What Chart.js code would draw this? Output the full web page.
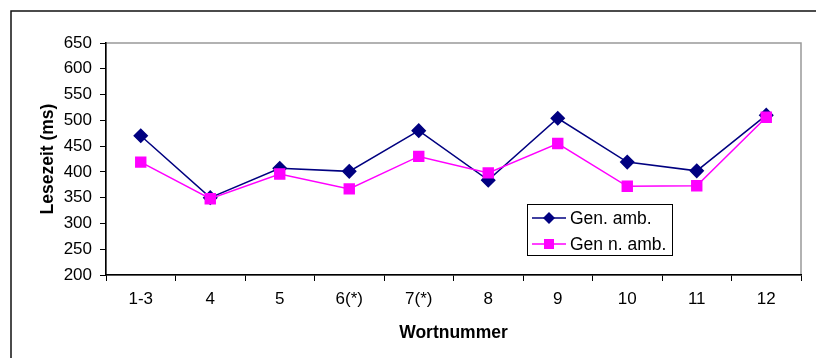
<!DOCTYPE html>
<html>
<head>
<meta charset="utf-8">
<script src="https://cdn.jsdelivr.net/npm/chart.js@4.4.0/dist/chart.umd.min.js"></script>
<style>
  html, body { margin: 0; padding: 0; background: #fff; }
  #wrap { position: relative; width: 816px; height: 358px; }
</style>
</head>
<body>
<div id="wrap"><canvas id="chart" width="816" height="358"></canvas></div>
<script>
// Word positions in the sentence
const wordLabels = ['1-3', '4', '5', '6(*)', '7(*)', '8', '9', '10', '11', '12'];
// Mean reading times (ms)
const genAmb = [470, 350, 407, 401, 480, 384, 504, 419, 402, 510];
const genNonAmb = [419, 348, 396, 367, 430, 398, 455, 372, 373, 506];
const seriesNames = ['Gen. amb.', 'Gen n. amb.'];
const yMin = 200, yMax = 650, yStep = 50;

const FONT = "'Liberation Sans', Arial, sans-serif";

// Page frame and grey plot frame
const framePlugin = {
  id: 'frame',
  beforeDraw(chart) {
    const ctx = chart.ctx, a = chart.chartArea;
    ctx.save();
    ctx.strokeStyle = '#111';
    ctx.lineWidth = 1.5;
    ctx.beginPath();
    ctx.moveTo(11, 358);
    ctx.lineTo(11, 11);
    ctx.lineTo(816, 11);
    ctx.stroke();
    ctx.strokeStyle = '#999';
    ctx.lineWidth = 1.5;
    ctx.strokeRect(a.left, a.top, a.right - a.left, a.bottom - a.top);
    ctx.restore();
  }
};

// Boxed legend placed inside the plot
const boxLegend = {
  id: 'boxLegend',
  afterDatasetsDraw(chart) {
    const ctx = chart.ctx;
    const x0 = 527, y0 = 204, w = 145, h = 51;
    ctx.save();
    ctx.fillStyle = '#fff';
    ctx.fillRect(x0, y0, w, h);
    ctx.strokeStyle = '#000';
    ctx.lineWidth = 1;
    ctx.strokeRect(x0 + 0.5, y0 + 0.5, w, h);
    const rows = [218, 244];
    chart.data.datasets.forEach((ds, i) => {
      const y = rows[i];
      ctx.strokeStyle = ds.borderColor;
      ctx.lineWidth = ds.borderWidth;
      ctx.beginPath();
      ctx.moveTo(532, y);
      ctx.lineTo(566, y);
      ctx.stroke();
      ctx.fillStyle = ds.pointBackgroundColor;
      const cx = 549;
      if (ds.pointStyle === 'rectRot') {
        const r = 6;
        ctx.beginPath();
        ctx.moveTo(cx, y - r); ctx.lineTo(cx + r, y); ctx.lineTo(cx, y + r); ctx.lineTo(cx - r, y);
        ctx.closePath(); ctx.fill();
      } else {
        ctx.fillRect(cx - 5, y - 5, 10, 10);
      }
      ctx.fillStyle = '#000';
      ctx.font = '17.5px ' + FONT;
      ctx.textBaseline = 'middle';
      ctx.textAlign = 'left';
      ctx.fillText(ds.label, 570, y + 1);
    });
    ctx.restore();
  }
};

new Chart(document.getElementById('chart'), {
  type: 'line',
  data: {
    labels: wordLabels,
    datasets: [
      {
        label: seriesNames[0],
        data: genAmb,
        borderColor: '#000080',
        backgroundColor: '#000080',
        pointBackgroundColor: '#000080',
        pointBorderColor: '#000080',
        pointStyle: 'rectRot',
        pointRadius: 6.5,
        borderWidth: 1.5,
        tension: 0,
        order: 1
      },
      {
        label: seriesNames[1],
        data: genNonAmb,
        borderColor: '#ff00ff',
        backgroundColor: '#ff00ff',
        pointBackgroundColor: '#ff00ff',
        pointBorderColor: '#ff00ff',
        pointStyle: 'rect',
        pointRadius: 7,
        borderWidth: 1.5,
        tension: 0,
        order: 0
      }
    ]
  },
  options: {
    responsive: false,
    animation: false,
    layout: { padding: { top: 43, right: 15, left: 0, bottom: 0 } },
    plugins: {
      legend: { display: false },
      tooltip: { enabled: false }
    },
    scales: {
      x: {
        offset: true,
        grid: {
          offset: true,
          drawOnChartArea: false,
          drawTicks: true,
          tickLength: 6,
          color: '#000'
        },
        border: { color: '#000', width: 1.5 },
        ticks: { color: '#000', font: { family: FONT, size: 17 }, padding: 8, maxRotation: 0 },
        title: {
          display: true,
          text: 'Wortnummer',
          color: '#000',
          font: { family: FONT, size: 17.5, weight: 'bold' },
          padding: { top: 0, bottom: 14.5 }
        },
        afterFit(scale) { scale.height = 83; }
      },
      y: {
        min: yMin,
        max: yMax,
        ticks: { stepSize: yStep, color: '#000', font: { family: FONT, size: 17 }, padding: 8 },
        grid: {
          drawOnChartArea: false,
          drawTicks: true,
          tickLength: 6,
          color: '#000'
        },
        border: { color: '#000', width: 1.5 },
        title: {
          display: true,
          text: 'Lesezeit (ms)',
          color: '#000',
          font: { family: FONT, size: 17.5, weight: 'bold' },
          padding: { top: 37.5, bottom: 0 }
        },
        afterFit(scale) { scale.width = 106; }
      }
    }
  },
  plugins: [framePlugin, boxLegend]
});
</script>
</body>
</html>
